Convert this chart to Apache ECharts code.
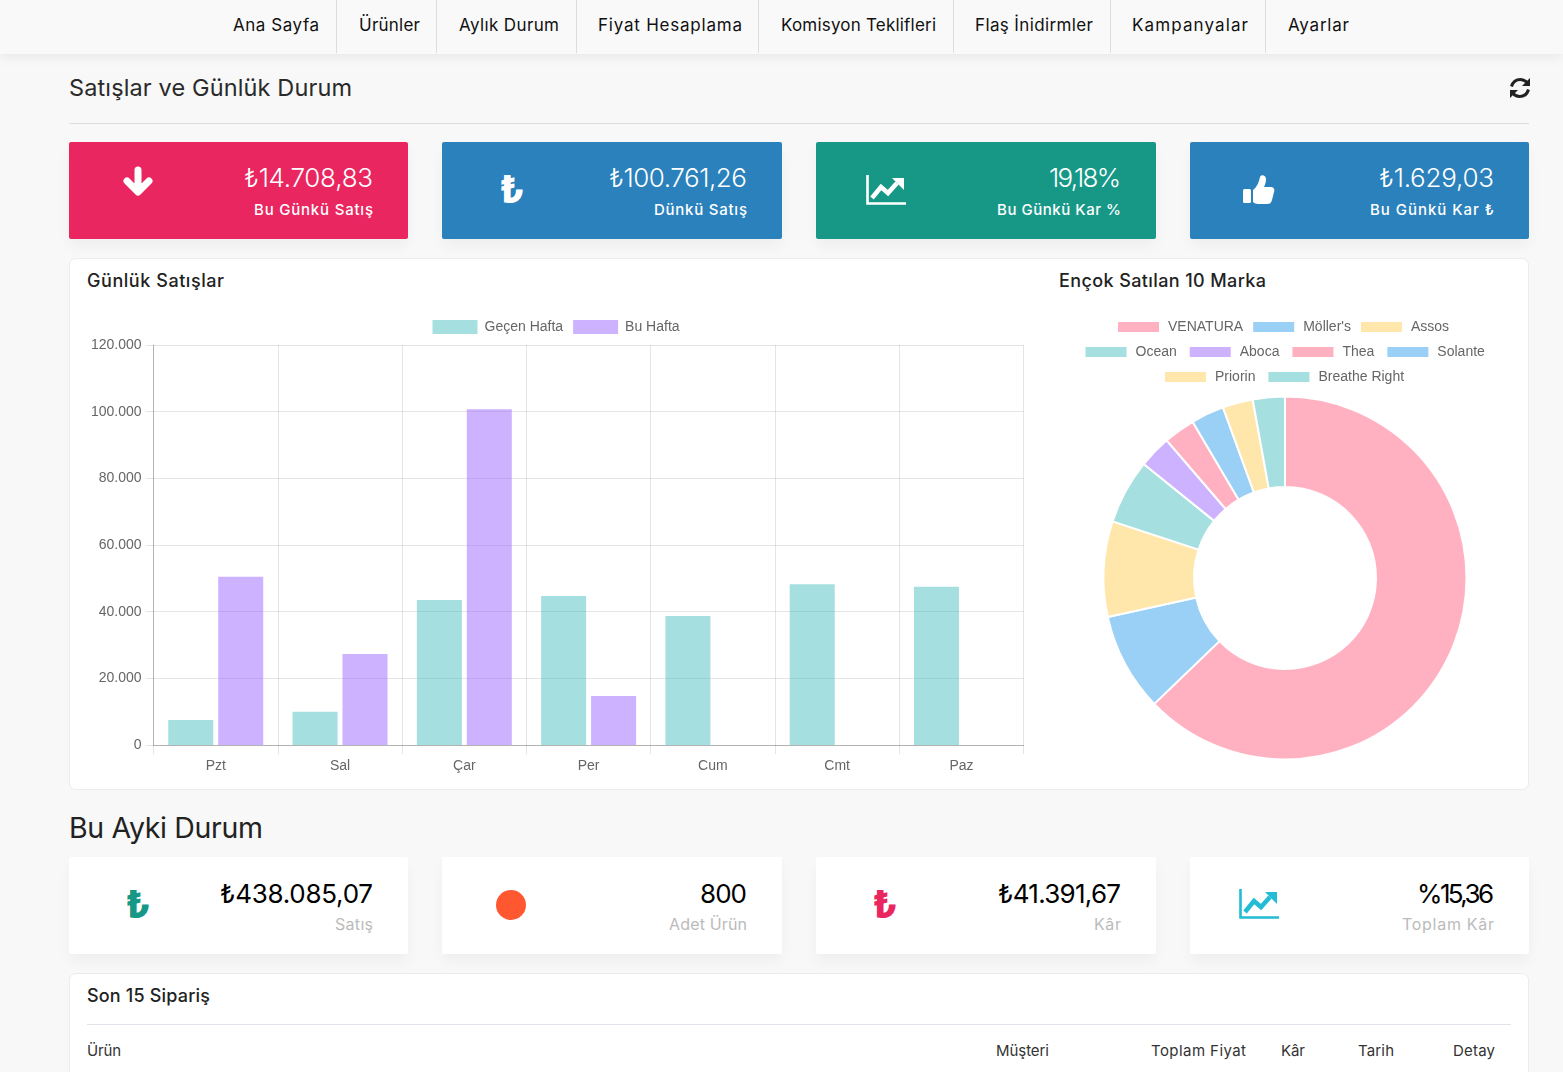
<!DOCTYPE html>
<html>

<head>
    <meta charset="UTF-8" />
    <title>Satışlar ve Günlük Durum</title>
    <script src="https://cdn.jsdelivr.net/npm/echarts@6/dist/echarts.min.js"></script>
    <style>
        html, body { margin: 0; padding: 0; background: #f8f8f8; }
        body { width: 1563px; height: 1072px; overflow: hidden; position: relative; font-family: Inter, "Noto Sans", sans-serif; color: #222; }
        .t { position: absolute; white-space: nowrap; line-height: 1; transform: translateY(-50%); }
        .box { position: absolute; box-sizing: border-box; }
        #nav { left: 0; top: 0; width: 1563px; height: 54px; background: #f9f9f9; box-shadow: 0 3px 12px rgba(0, 0, 0, .07); }
        .sep { position: absolute; top: 0; width: 1px; height: 53px; background: #dedede; }
        .nav { font-size: 17px; color: #111; }
        .stat { height: 97px; top: 142px; border-radius: 2px; box-shadow: 0 8px 14px rgba(0, 0, 0, .04); }
        .stat2 { height: 97px; top: 857px; background: #fff; border-radius: 2px; box-shadow: 0 8px 14px rgba(0, 0, 0, .04); }
        .panel { background: #fff; border: 1px solid #ececec; border-radius: 7px; left: 69px; width: 1460px; }
        .val { font-size: 26px; font-weight: 300; }
        .lab { font-size: 15px; font-weight: 500; color: #fff; }
        .lab2 { font-size: 16px; font-weight: 400; color: #bbb; }
        .ttl { font-size: 18px; font-weight: 500; color: #222; }
        .th { font-size: 15px; color: #333; }
        .lira { position: absolute; font-weight: 800; font-size: 38px; line-height: 1; transform: translate(-50%, -50%); }
        svg { position: absolute; }
        #barChart { position: absolute; left: 70px; top: 300px; width: 960px; height: 485px; }
        #pieChart { position: absolute; left: 1040px; top: 300px; width: 480px; height: 485px; }
    </style>
</head>

<body>
    <div class="box" id="nav"></div>
    <div class="box" id="hr1" style="left:69px;top:123px;width:1460px;height:1px;background:#dcdcdc"></div>
    <span class="t" data-w="283" style="left:69px;top:88px;font-size:23.5px;color:#2a2a2a">Satışlar ve Günlük Durum</span>
    <svg style="left:1508px;top:76px" width="24" height="24" viewBox="0 0 24 24" fill="none" stroke="#222" stroke-width="3">
        <path d="M3.5 10.5C5 5.5 9 3.5 12.5 3.5c3 0 5 1.2 7 3.5" />
        <path d="M20.5 13.5C19 18.5 15 20.5 11.5 20.5c-3 0-5-1.2-7-3.5" />
        <path d="M22 2v8h-8z" fill="#222" stroke="none" />
        <path d="M2 22v-8h8z" fill="#222" stroke="none" />
    </svg>

    <div class="box panel" style="top:257.5px;height:532px"></div>
    <span class="t ttl" data-w="137" style="left:87px;top:281px">Günlük Satışlar</span>
    <span class="t ttl" data-w="207" style="left:1059px;top:281px">Ençok Satılan 10 Marka</span>
    <div id="barChart"></div>
    <div id="pieChart"></div>

    <span class="t" data-w="194" style="left:69px;top:828px;font-size:28.5px;color:#222">Bu Ayki Durum</span>

    <div class="box panel" style="top:972.5px;height:140px"></div>
    <span class="t ttl" data-w="123" style="left:87px;top:996px">Son 15 Sipariş</span>
    <div class="box" style="left:87px;top:1024px;width:1424px;height:1px;background:#e2e2ea"></div>

    <script type="text/javascript">
        // nav
        const navItems = ["Ana Sayfa", "Ürünler", "Aylık Durum", "Fiyat Hesaplama", "Komisyon Teklifleri", "Flaş İnidirmler", "Kampanyalar", "Ayarlar"];
        const navLeft = [233, 359, 459, 598, 781, 975, 1132, 1288];
        const navWidth = [86, 61, 100, 144, 155, 118, 116, 61];
        const navSep = [336, 436, 576, 758, 953, 1110, 1265];

        // kartlar
        const cardLeft = [69, 442, 816, 1190];
        const cardWidth = [339, 340, 340, 339];
        const cardRight = [373, 747, 1121, 1494];
        const topColors = ["#e9265f", "#2a81bb", "#179887", "#2a81bb"];
        const topValues = ["₺14.708,83", "₺100.761,26", "19,18%", "₺1.629,03"];
        const topValueW = [129, 138, 72, 115];
        const topLabels = ["Bu Günkü Satış", "Dünkü Satış", "Bu Günkü Kar %", "Bu Günkü Kar ₺"];
        const topLabelW = [119, 93, 124, 124];
        const monthValues = ["₺438.085,07", "800", "₺41.391,67", "%15,36"];
        const monthValueW = [153, 47, 123, 77];
        const monthLabels = ["Satış", "Adet Ürün", "Kâr", "Toplam Kâr"];
        const monthLabelW = [38, 78, 27, 92];

        // tablo
        const tableHead = ["Ürün", "Müşteri", "Toplam Fiyat", "Kâr", "Tarih", "Detay"];
        const tableLeft = [87, 996, 1151, 1281, 1358, 1453];
        const tableWidth = [34, 53, 95, 24, 36, 42];

        // grafik
        const days = ["Pzt", "Sal", "Çar", "Per", "Cum", "Cmt", "Paz"];
        const lastWeek = [7500, 10000, 43500, 44700, 38700, 48200, 47500];
        const thisWeek = [50500, 27300, 100761, 14708, null, null, null];
        const brands = ["VENATURA", "Möller's", "Assos", "Ocean", "Aboca", "Thea", "Solante", "Priorin", "Breathe Right"];
        const brandSales = [62.8, 8.75, 8.5, 5.75, 2.9, 2.8, 2.95, 2.7, 2.85];
        const brandColors = ["rgba(255,99,132,.5)", "rgba(54,162,235,.5)", "rgba(255,205,86,.5)", "rgba(75,192,192,.5)", "rgba(153,102,255,.5)", "rgba(255,99,132,.5)", "rgba(54,162,235,.5)", "rgba(255,205,86,.5)", "rgba(75,192,192,.5)"];
        const legendRows = [["VENATURA", "Möller's", "Assos"], ["Ocean", "Aboca", "Thea", "Solante"], ["Priorin", "Breathe Right"]];
        const legendRowLeft = [76, 43.5, 123];
        const legendRowGap = [8, 11, 11];

        function addEl(html) {
            document.body.insertAdjacentHTML('beforeend', html);
        }

        navSep.forEach(x => addEl('<div class="sep" style="left:' + x + 'px"></div>'));
        navItems.forEach((name, i) => addEl('<span class="t nav" data-w="' + navWidth[i] + '" style="left:' + navLeft[i] + 'px;top:25px">' + name + '</span>'));

        function rightText(cls, x, y, w, text, extra) {
            addEl('<span class="t ' + cls + '" data-w="' + w + '" style="right:' + (1563 - x) + 'px;top:' + y + 'px;' + (extra || '') + '">' + text + '</span>');
        }

        cardLeft.forEach((x, i) => {
            addEl('<div class="box stat" style="left:' + x + 'px;width:' + cardWidth[i] + 'px;background:' + topColors[i] + '"></div>');
            rightText('val', cardRight[i], 178, topValueW[i], topValues[i], 'color:#fff');
            rightText('lab', cardRight[i], 209, topLabelW[i], topLabels[i]);
            addEl('<div class="box stat2" style="left:' + x + 'px;width:' + cardWidth[i] + 'px"></div>');
            rightText('val', cardRight[i], 894, monthValueW[i], monthValues[i], 'color:#000;font-weight:400');
            rightText('lab2', cardRight[i], 924, monthLabelW[i], monthLabels[i]);
        });

        function trendIcon(x, y, color) {
            return '<svg style="left:' + x + 'px;top:' + y + 'px" width="40" height="31" viewBox="0 0 40 31">' +
                '<path d="M1.5 0v28.5H40" fill="none" stroke="' + color + '" stroke-width="2.6"/>' +
                '<path d="M6 23l9-11 7 6 9-10" fill="none" stroke="' + color + '" stroke-width="4.5"/>' +
                '<path d="M26 3h12v12z" fill="' + color + '"/></svg>';
        }

        // ikonlar
        addEl('<svg style="left:122px;top:166px" width="32" height="31" viewBox="0 0 32 31"><path d="M16 4v20M5 15l11 11 11-11" fill="none" stroke="#fff" stroke-width="7" stroke-linecap="round" stroke-linejoin="round"/></svg>');
        addEl('<span class="lira" style="left:512px;top:189px;color:#fff">₺</span>');
        addEl(trendIcon(866, 175, '#fff'));
        addEl('<svg style="left:1242px;top:174px" width="33" height="32" viewBox="0 0 33 32" fill="#fff"><rect x="1" y="15" width="8" height="14" rx="1.5"/><path d="M11 16c4-3 6-8 7-13 1-3 6-2 6 2 0 3-1 6-2 8h7c3 0 4 3 3 5l-2 8c-1 3-2 4-5 4H16c-2 0-4-1-5-2z"/></svg>');
        addEl('<span class="lira" style="left:138px;top:904px;color:#179887">₺</span>');
        addEl('<div class="box" style="left:496px;top:889.5px;width:30px;height:30px;border-radius:50%;background:#ff5730"></div>');
        addEl('<span class="lira" style="left:885px;top:904px;color:#e9265f">₺</span>');
        addEl(trendIcon(1239, 889, '#22bcd4'));

        tableHead.forEach((name, i) => addEl('<span class="t th" data-w="' + tableWidth[i] + '" style="left:' + tableLeft[i] + 'px;top:1050px">' + name + '</span>'));

        // Poppins yok, metin genisligini harf araligi ile tutturuyoruz
        document.querySelectorAll('[data-w]').forEach(el => {
            let n = el.textContent.length;
            let ls = (Number(el.dataset.w) - el.getBoundingClientRect().width) / (n - 1);
            el.style.letterSpacing = ls + 'px';
            if (el.style.right) {
                el.style.marginRight = (-ls) + 'px';
            }
        });

        const chartFont = '"Liberation Sans", Arial, sans-serif';
        const barLine = 'rgba(0,0,0,.1)';
        const axisDark = 'rgba(0,0,0,.22)';

        const barChart = echarts.init(document.getElementById('barChart'));
        barChart.setOption({
            animation: false,
            textStyle: { fontFamily: chartFont },
            legend: {
                left: 362.5,
                top: 20,
                padding: 0,
                itemWidth: 45,
                itemHeight: 14,
                itemGap: 10,
                icon: 'rect',
                selectedMode: false,
                textStyle: { fontSize: 14, color: '#666', fontFamily: chartFont, padding: [0, 0, 0, 2] }
            },
            grid: { left: 83.6, top: 45, width: 870, height: 400 },
            xAxis: {
                type: 'category',
                data: days,
                axisLine: { lineStyle: { color: axisDark } },
                axisTick: { show: true, length: 9, lineStyle: { color: barLine } },
                axisLabel: { fontSize: 14, color: '#666', margin: 14, fontFamily: chartFont },
                splitLine: { show: true, lineStyle: { color: barLine } }
            },
            yAxis: {
                type: 'value',
                min: 0,
                max: 120000,
                interval: 20000,
                axisLine: { show: true, lineStyle: { color: axisDark } },
                axisTick: { show: true, length: 8, lineStyle: { color: barLine } },
                axisLabel: {
                    fontSize: 14,
                    color: '#666',
                    margin: 12,
                    fontFamily: chartFont,
                    formatter: value => String(value).replace(/\B(?=(\d{3})+$)/g, '.')
                },
                splitLine: { show: true, lineStyle: { color: barLine } }
            },
            series: [
                { name: 'Geçen Hafta', type: 'bar', data: lastWeek, barWidth: 45, barGap: '11%', itemStyle: { color: 'rgba(75,192,192,.5)' } },
                { name: 'Bu Hafta', type: 'bar', data: thisWeek, barWidth: 45, barGap: '11%', itemStyle: { color: 'rgba(153,102,255,.5)' } }
            ]
        });

        const pieChart = echarts.init(document.getElementById('pieChart'));
        pieChart.setOption({
            animation: false,
            textStyle: { fontFamily: chartFont },
            legend: legendRows.map((row, i) => ({
                data: row,
                left: legendRowLeft[i],
                top: 20 + i * 25,
                padding: 0,
                itemWidth: 43,
                itemHeight: 12,
                itemGap: legendRowGap[i],
                icon: 'rect',
                selectedMode: false,
                textStyle: { fontSize: 14, color: '#666', fontFamily: chartFont, padding: [0, 0, 0, 3] }
            })),
            series: [{
                type: 'pie',
                center: [245, 278],
                radius: [91, 181.5],
                startAngle: 90,
                clockwise: true,
                label: { show: false },
                labelLine: { show: false },
                itemStyle: { borderColor: '#fff', borderWidth: 2 },
                data: brands.map((name, i) => ({ name: name, value: brandSales[i], itemStyle: { color: brandColors[i] } }))
            }]
        });
    </script>
</body>

</html>
